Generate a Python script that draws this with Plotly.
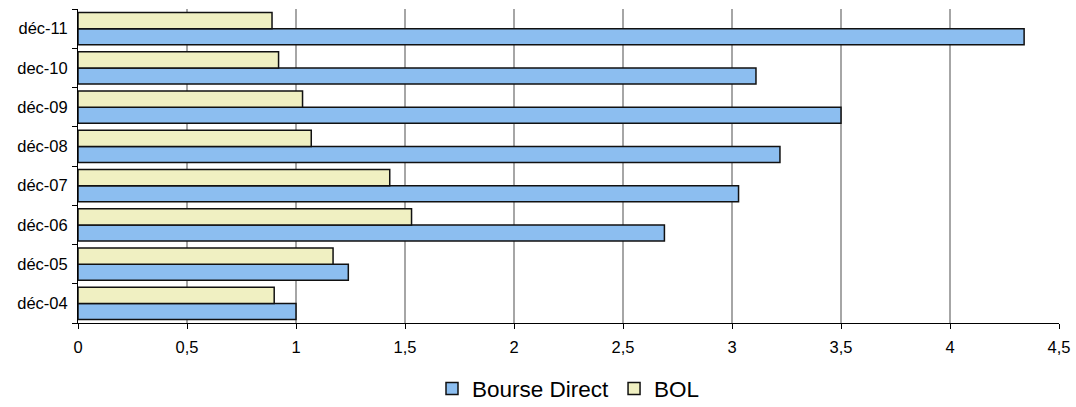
import plotly.graph_objects as go

categories = ["déc-04", "déc-05", "déc-06", "déc-07", "déc-08", "déc-09", "dec-10", "déc-11"]
bourse_direct = [1.0, 1.24, 2.69, 3.03, 3.22, 3.50, 3.11, 4.34]
bol = [0.90, 1.17, 1.53, 1.43, 1.07, 1.03, 0.92, 0.89]
series_names = ["Bourse Direct", "BOL"]
x_ticks = [0, 0.5, 1, 1.5, 2, 2.5, 3, 3.5, 4, 4.5]

font_family = "Liberation Sans, Arial, sans-serif"

fig = go.Figure()
fig.add_trace(go.Bar(
    y=categories, x=bourse_direct, orientation="h", name=series_names[0],
    marker=dict(color="#8CBEF0", line=dict(color="#111111", width=1.5)),
))
fig.add_trace(go.Bar(
    y=categories, x=bol, orientation="h", name=series_names[1],
    marker=dict(color="#F0F0C2", line=dict(color="#111111", width=1.5)),
))

fig.update_layout(
    width=1076, height=407,
    margin=dict(l=78, r=17, t=9, b=84, autoexpand=False),
    paper_bgcolor="white", plot_bgcolor="white",
    barmode="group", bargap=0.18, bargroupgap=0,
    separators=", ",
    font=dict(family=font_family, size=16, color="#000000"),
    showlegend=True,
    legend=dict(orientation="h", x=0.5, xanchor="center", y=-0.21, yanchor="middle",
                font=dict(size=22.5, family=font_family), traceorder="normal",
                itemwidth=30),
)
fig.update_xaxes(
    range=[0, 4.5], tickvals=x_ticks, showgrid=True, gridcolor="#A6A6A6", gridwidth=1.5,
    showline=True, linecolor="#000000", linewidth=1, ticks="outside", ticklen=5,
    tickcolor="#000000", zeroline=False, tickfont=dict(size=16.5), ticklabelstandoff=4,
)
fig.update_yaxes(
    type="category", categoryorder="array", categoryarray=categories,
    range=[-0.5, len(categories) - 0.5],
    showline=True, linecolor="#000000", linewidth=1, ticks="outside", ticklen=5,
    tickcolor="#000000", tickson="boundaries", showgrid=False, tickfont=dict(size=16.5),
    ticklabelstandoff=6,
)

fig.write_html("out.html")
